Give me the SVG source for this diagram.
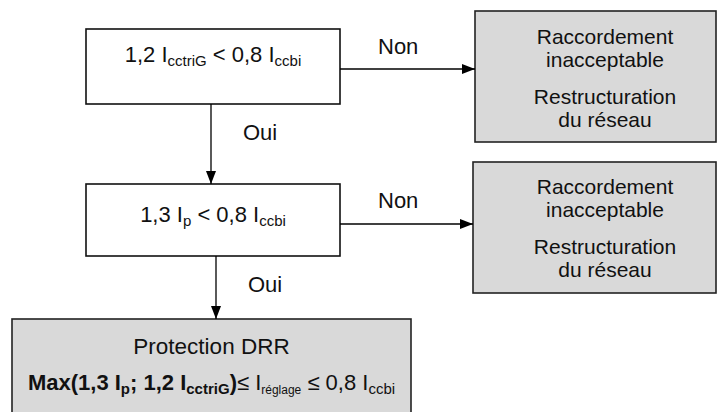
<svg xmlns="http://www.w3.org/2000/svg" width="717" height="412" viewBox="0 0 717 412">
<defs>
<marker id="ah" viewBox="0 0 13 10" refX="13" refY="5" markerWidth="13" markerHeight="10" markerUnits="userSpaceOnUse" orient="auto">
<path d="M0,0 L13,5 L0,10 Z" fill="#000"/>
</marker>
<style>
text{font-family:"Liberation Sans",Arial,sans-serif;font-size:22px;fill:#111;}
.g text{font-size:21px;}
.box{fill:#fff;stroke:#111;stroke-width:1.6;}
.gbox{fill:#d9d9d9;stroke:#222;stroke-width:1.6;}
.c{text-anchor:middle;}
.sub{font-size:15px;}
.b{font-weight:bold;}
.conn line{stroke:#000;stroke-width:1.3;marker-end:url(#ah);}
</style>
</defs>
<rect width="717" height="412" fill="#fff"/>
<g id="cond1">
<rect class="box" x="86" y="29" width="254" height="75"/>
<text class="c" x="213" y="62">1,2 I<tspan class="sub" dy="4">cctriG</tspan><tspan dy="-4"> &lt; 0,8 I</tspan><tspan class="sub" dy="4">ccbi</tspan></text>
</g>
<g id="rej1" class="g">
<rect class="gbox" x="475" y="11" width="241" height="131"/>
<text class="c" x="605" y="44">Raccordement</text>
<text class="c" x="605" y="67">inacceptable</text>
<text class="c" x="605" y="104">Restructuration</text>
<text class="c" x="605" y="127">du réseau</text>
</g>
<g id="cond2">
<rect class="box" x="86" y="184" width="254" height="72"/>
<text class="c" x="213" y="222">1,3 I<tspan class="sub" dy="4">p</tspan><tspan dy="-4"> &lt; 0,8 I</tspan><tspan class="sub" dy="4">ccbi</tspan></text>
</g>
<g id="rej2" class="g">
<rect class="gbox" x="473" y="162" width="243" height="131"/>
<text class="c" x="605" y="194">Raccordement</text>
<text class="c" x="605" y="217">inacceptable</text>
<text class="c" x="605" y="254">Restructuration</text>
<text class="c" x="605" y="277">du réseau</text>
</g>
<g id="result">
<rect class="gbox" x="12" y="319" width="399" height="110"/>
<text class="c" x="211.5" y="354" style="font-size:22.5px">Protection DRR</text>
<text class="c" x="211.5" y="390"><tspan class="b">Max(1,3 I</tspan><tspan class="b sub" dy="4">p</tspan><tspan class="b" dy="-4">; 1,2 I</tspan><tspan class="b sub" dy="4">cctriG</tspan><tspan class="b" dy="-4">)</tspan>≤ I<tspan class="sub" dy="4" style="font-size:12px">réglage</tspan><tspan dy="-4"> ≤ 0,8 I</tspan><tspan class="sub" dy="4">ccbi</tspan></text>
</g>
<g id="connectors" class="conn">
<line x1="340" y1="69" x2="475" y2="69"/>
<line x1="211" y1="104" x2="211" y2="184"/>
<line x1="340" y1="224" x2="473" y2="224"/>
<line x1="216" y1="256" x2="216" y2="319"/>
<text x="378" y="54">Non</text>
<text x="243" y="140">Oui</text>
<text x="378" y="208">Non</text>
<text x="248" y="292">Oui</text>
</g>
</svg>
